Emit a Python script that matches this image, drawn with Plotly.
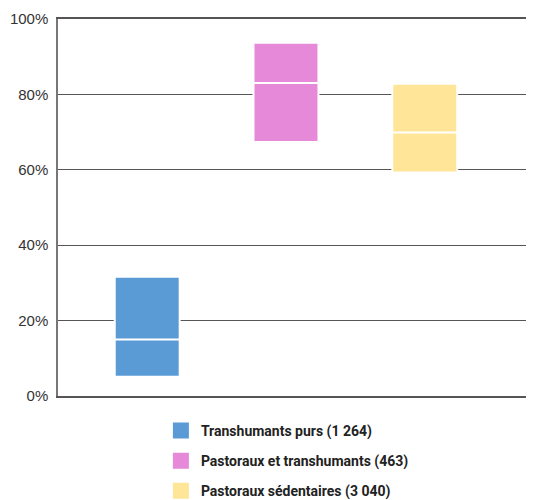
import plotly.graph_objects as go

categories = ["Transhumants purs (1 264)", "Pastoraux et transhumants (463)", "Pastoraux sédentaires (3 040)"]
q1_values = [5.1, 67.4, 59.3]
median_values = [15.0, 83.0, 69.9]
q3_values = [31.6, 93.7, 82.8]
colors = ["#5b9bd5", "#e589d8", "#fee598"]
y_ticks = [0, 20, 40, 60, 80, 100]
y_tick_labels = [f"{v}%" for v in y_ticks]

fig = go.Figure()
for name, q1, med, q3, col in zip(categories, q1_values, median_values, q3_values, colors):
    fig.add_trace(go.Box(
        x=[""], q1=[q1], median=[med], q3=[q3], lowerfence=[q1], upperfence=[q3],
        name=name, fillcolor=col, line=dict(color="white", width=2),
        whiskerwidth=0, showlegend=False, hoverinfo="skip", legendgroup=name,
    ))
for name, col in zip(categories, colors):
    fig.add_trace(go.Scatter(
        x=[None], y=[None], mode="markers", name=name, legendgroup=name,
        marker=dict(symbol="square", size=16, color=col),
    ))

fig.update_layout(
    width=534, height=500,
    margin=dict(l=50, r=12, t=11, b=112, autoexpand=False),
    paper_bgcolor="white", plot_bgcolor="white",
    boxmode="group", boxgap=0.118, boxgroupgap=0.532,
    showlegend=True,
    legend=dict(x=0.218, xanchor="left", y=-0.05, yanchor="top",
                font=dict(family="Roboto, sans-serif", size=14, color="#222222", weight="bold"),
                tracegroupgap=9, itemclick=False),
    xaxis=dict(range=[-0.483, 0.517], showticklabels=False, showgrid=False, automargin=False,
               zeroline=False, showline=True, linecolor="#555555", linewidth=1.5, fixedrange=True,
               mirror=True),
    yaxis=dict(range=[0, 100], tickvals=y_ticks, ticktext=y_tick_labels, showgrid=True,
               automargin=False,
               gridcolor="#555555", gridwidth=1, zeroline=False, showline=True,
               linecolor="#777777", linewidth=1.5, ticks="", ticklabelstandoff=5,
               tickfont=dict(family="Liberation Sans, Arial, sans-serif", size=15, color="#333333")),
)
fig.write_html("out.html")
